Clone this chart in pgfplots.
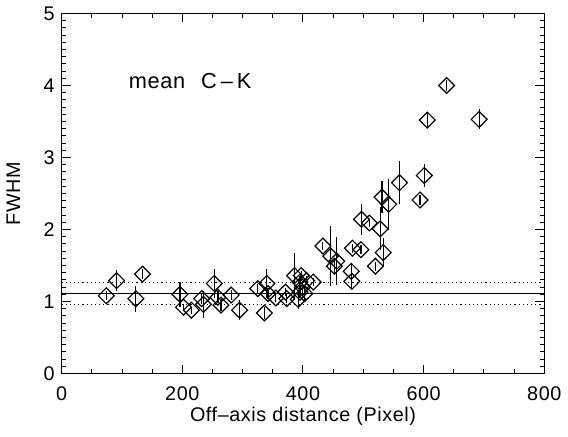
\documentclass[border=0pt]{standalone}
\usepackage{fontspec}
\setmainfont{Liberation Sans}[LetterSpace=3]
\usepackage{pgfplots}
\pgfplotsset{compat=1.18}

% FWHM against off-axis distance
\pgfplotstableread{
x    y     ey
74   1.08  0.06
91   1.29  0.15
123  1.04  0.18
134  1.38  0.07
196  1.10  0.17
202  0.92  0.05
215  0.88  0.05
232  1.04  0.08
235  0.96  0.19
253  1.25  0.20
259  1.06  0.08
264  0.95  0.08
281  1.09  0.07
295  0.88  0.14
325  1.18  0.06
340  1.25  0.20
336  0.84  0.08
342  1.11  0.08
355  1.05  0.06
371  1.13  0.06
373  1.04  0.06
386  1.36  0.31
392  1.03  0.13
395  1.27  0.08
395  1.13  0.08
397  1.36  0.06
399  1.20  0.08
403  1.11  0.10
406  1.29  0.06
417  1.27  0.06
433  1.77  0.06
446  1.63  0.42
452  1.49  0.10
456  1.56  0.33
480  1.42  0.12
481  1.28  0.10
482  1.74  0.06
496  1.72  0.06
497  2.14  0.22
510  2.09  0.06
520  1.49  0.06
528  2.01  0.30
531  2.45  0.22
533  1.68  0.20
542  2.35  0.35
560  2.65  0.30
594  2.41  0.07
601  2.75  0.16
606  3.52  0.10
638  4.00  0.08
692  3.53  0.14
}\fwhm

\begin{document}
\begin{tikzpicture}
\begin{axis}[
    width=244pt, height=182pt, scale only axis,
    xmin=0, xmax=800, ymin=0, ymax=5,
    xtick={0,200,...,800}, minor x tick num=3,
    ytick={0,1,...,5}, minor y tick num=9,
    major tick length=4.5pt, minor tick length=2.4pt,
    tick style={black, line width=0.5pt},
    axis line style={line width=0.6pt},
    /pgf/number format/assume math mode=true,
    tick label style={font=\fontsize{10}{12}\selectfont},
    xticklabel style={yshift=-3pt},
    xlabel={Off--axis distance (Pixel)},
    ylabel={FWHM},
    label style={font=\fontsize{10}{12}\selectfont},
    xlabel style={at={(axis description cs:0.5,-0.118)}, anchor=center},
    ylabel style={at={(axis description cs:-0.1,0.5)}, anchor=center},
    ]
\coordinate (bl) at (rel axis cs:0,0);
\coordinate (tr) at (rel axis cs:1,1);
\addplot[black, line width=0.5pt] coordinates {(0,1.11) (800,1.11)};
\addplot[black, line width=0.6pt, dash pattern=on 0.6pt off 1.5pt] coordinates {(0,1.265) (800,1.265)};
\addplot[black, line width=0.6pt, dash pattern=on 0.6pt off 1.5pt] coordinates {(0,0.955) (800,0.955)};
\addplot[only marks, mark=diamond, mark size=4pt,
    mark options={xscale=1.333, black, line width=0.6pt},
    error bars/.cd, y dir=both, y explicit, error mark=none,
    error bar style={black, line width=0.6pt}]
    table[x=x, y=y, y error=ey] {\fwhm};
\node[anchor=west, font=\fontsize{11}{13}\selectfont] at (axis cs:100,4.06) {mean\hspace{8pt}C\hspace{2pt}--\hspace{2pt}K};
\end{axis}
\path ([shift={(-31pt,-32pt)}]bl) rectangle ([shift={(9pt,4pt)}]tr);
\end{tikzpicture}
\end{document}
